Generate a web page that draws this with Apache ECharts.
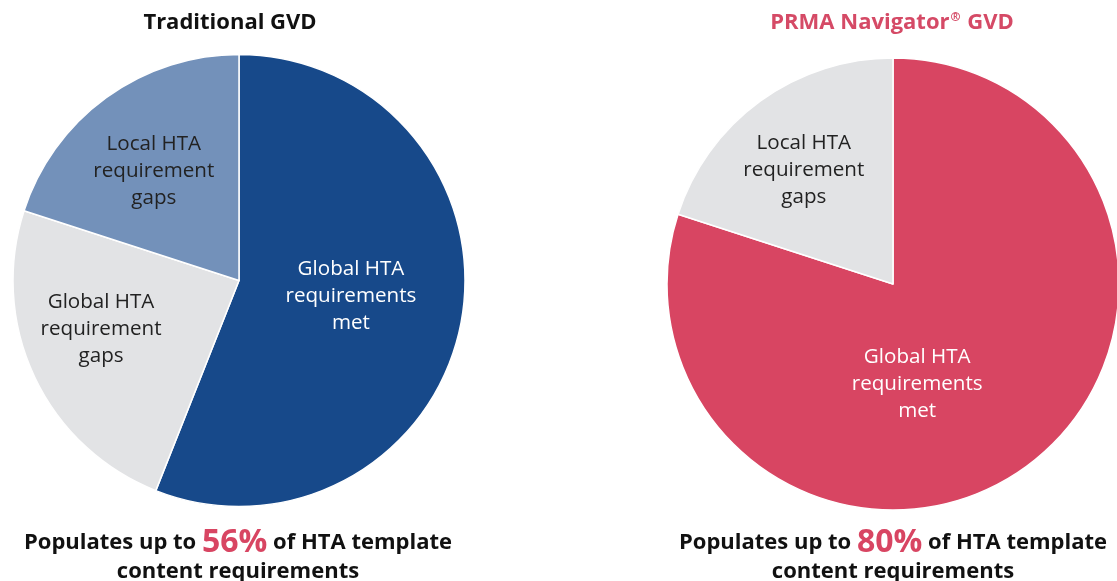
<!DOCTYPE html>
<html>
<head>
<meta charset="utf-8">
<script src="https://cdn.jsdelivr.net/npm/echarts@6/dist/echarts.min.js"></script>
<style>
  html, body { margin: 0; padding: 0; background: #fff; }
  #chart { width: 1117px; height: 581px; }
</style>
</head>
<body>
<div id="chart"></div>
<script>
// data
const leftTitle = 'Traditional GVD'
const rightTitle = ['PRMA Navigator', '®', ' GVD']
const leftNames = ['Global HTA\nrequirements\nmet', 'Global HTA\nrequirement\ngaps', 'Local HTA\nrequirement\ngaps']
const leftValues = [56, 24, 20]
const rightNames = ['Global HTA\nrequirements\nmet', 'Local HTA\nrequirement\ngaps']
const rightValues = [80, 20]

const FONT = 'Open Sans'
const leftColors = ['#17498A', '#E2E3E5', '#7391BA']
const leftText = ['#fff', '#222', '#222']
const leftOffsets = [[-2, -6], [-33, -1], [-17, -16]]
const rightColors = ['#D84562', '#E2E3E5']
const rightText = ['#fff', '#222']
const rightOffsets = [[-44, 6], [-21, -20]]

function buildData(names, values, colors, text, offsets) {
  return names.map((n, i) => ({
    name: n,
    value: values[i],
    itemStyle: { color: colors[i] },
    label: { color: text[i], offset: offsets[i] }
  }))
}

function pieSeries(center, data) {
  return {
    type: 'pie',
    center: center,
    radius: 226,
    startAngle: 90,
    clockwise: true,
    silent: true,
    animation: false,
    itemStyle: { borderColor: '#fff', borderWidth: 1.5 },
    label: {
      show: true,
      position: 'inside',
      fontFamily: FONT,
      fontSize: 20.6,
      lineHeight: 27,
      formatter: '{b}'
    },
    labelLine: { show: false },
    data: data
  }
}

function footer(value) {
  return '{a|Populates up to }{p|' + value + '%}{a| of HTA template}\n{a|content requirements}'
}

const footRich = {
  a: { fontFamily: FONT, fontSize: 22, fontWeight: 'bold', color: '#111', lineHeight: 29 },
  p: { fontFamily: FONT, fontSize: 32, fontWeight: 'bold', color: '#D84562', lineHeight: 29 }
}

const titleRich = {
  a: { fontFamily: FONT, fontSize: 22, fontWeight: 'bold', color: '#D54A66' },
  s: { fontFamily: FONT, fontSize: 12, fontWeight: 'bold', color: '#D54A66', verticalAlign: 'top', padding: [0, 1, 8, 1] }
}

const chart = echarts.init(document.getElementById('chart'))
chart.setOption({
  backgroundColor: '#fff',
  title: [
    { text: leftTitle, left: 225, top: 7, textAlign: 'center',
      textStyle: { fontFamily: FONT, fontSize: 22, fontWeight: 'bold', color: '#111' } },
    { text: '{a|' + rightTitle[0] + '}{s|' + rightTitle[1] + '}{a|' + rightTitle[2] + '}',
      left: 887, top: 7, textAlign: 'center',
      textStyle: { rich: titleRich } },
    { text: footer(leftValues[0]), left: 233, top: 523, textAlign: 'center',
      textStyle: { rich: footRich } },
    { text: footer(rightValues[0]), left: 888, top: 523, textAlign: 'center',
      textStyle: { rich: footRich } }
  ],
  series: [
    pieSeries([239, 280.5], buildData(leftNames, leftValues, leftColors, leftText, leftOffsets)),
    pieSeries([893, 284], buildData(rightNames, rightValues, rightColors, rightText, rightOffsets))
  ]
})
</script>
</body>
</html>
